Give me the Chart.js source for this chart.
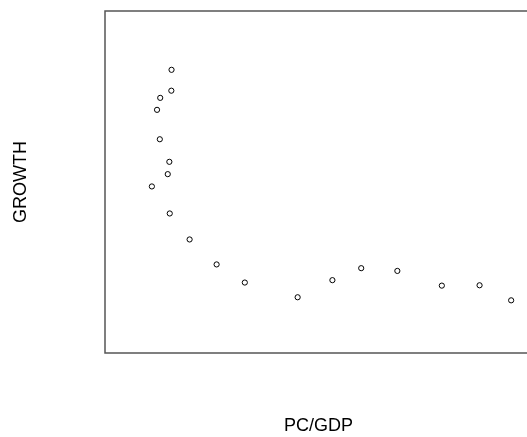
<!DOCTYPE html>
<html>
<head>
<meta charset="utf-8">
<script src="https://cdn.jsdelivr.net/npm/chart.js@4.4.1/dist/chart.umd.min.js"></script>
<style>
  html, body { margin: 0; padding: 0; background: #fff; overflow: hidden; }
  #wrap { width: 527px; height: 437px; overflow: hidden; }
</style>
</head>
<body>
<div id="wrap"><canvas id="growth-chart" width="537" height="437"></canvas></div>
<script>
// PC/GDP vs GROWTH (axes carry no ticks)
const pcGdp = [16.75, 16.7, 13.9, 13.1, 13.8, 16.2, 15.8, 11.8, 16.3, 21.3,
               28.1, 35.2, 48.5, 57.25, 64.5, 73.6, 84.8, 94.3, 102.25];
const growth = [82.8, 76.7, 74.6, 71.1, 62.5, 55.9, 52.3, 48.7, 40.8, 33.2,
                25.9, 20.6, 16.3, 21.3, 24.8, 24.0, 19.7, 19.8, 15.4];
const xRange = [0, 107.5];
const yRange = [0, 100];

const points = pcGdp.map((x, i) => ({ x: x, y: growth[i] }));

// R-style box around the plot region
const boxPlugin = {
    id: 'plotBox',
    afterDraw(chart) {
        const { ctx, chartArea: a } = chart;
        ctx.save();
        ctx.strokeStyle = '#555555';
        ctx.lineWidth = 1.5;
        ctx.strokeRect(a.left, a.top, a.right - a.left, a.bottom - a.top);
        ctx.restore();
    }
};

const font = { family: "'Liberation Sans', Arial, sans-serif", size: 18, lineHeight: 1.2 };

new Chart(document.getElementById('growth-chart').getContext('2d'), {
    type: 'scatter',
    data: {
        datasets: [{
            data: points,
            pointStyle: 'circle',
            pointRadius: 2.6,
            pointBorderWidth: 1,
            pointBorderColor: '#000000',
            pointBackgroundColor: 'rgba(0,0,0,0)'
        }]
    },
    options: {
        responsive: false,
        animation: false,
        layout: { padding: { top: 11, left: 0, right: 2, bottom: 0 } },
        plugins: { legend: { display: false }, tooltip: { enabled: false } },
        scales: {
            x: {
                type: 'linear',
                min: xRange[0],
                max: xRange[1],
                ticks: { display: false },
                grid: { display: false, drawTicks: false },
                border: { display: false },
                title: {
                    display: true,
                    text: 'PC/GDP',
                    color: '#000000',
                    font: font,
                    padding: { top: 62.4, bottom: 0 }
                }
            },
            y: {
                type: 'linear',
                min: yRange[0],
                max: yRange[1],
                ticks: { display: false },
                grid: { display: false, drawTicks: false },
                border: { display: false },
                title: {
                    display: true,
                    text: 'GROWTH',
                    color: '#000000',
                    font: font,
                    padding: { top: 10.2, bottom: 73.2 }
                }
            }
        }
    },
    plugins: [boxPlugin]
});
</script>
</body>
</html>
